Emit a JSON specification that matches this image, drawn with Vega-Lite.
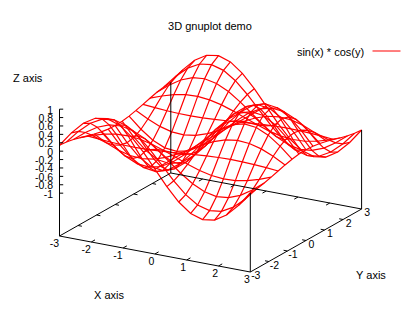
{"$schema":"https://vega.github.io/schema/vega-lite/v6.json","width":420,"height":320,"padding":0,"autosize":{"type":"fit","contains":"padding"},"background":"white","view":{"stroke":null},
"config":{"text":{"font":"Liberation Sans","fontSize":10.5,"color":"#000000"}},
"datasets":{"surface":[
{"x":-3,"y":3,"z":0.14},{"x":-3,"y":2.625,"z":0.123},{"x":-3,"y":2.25,"z":0.089},{"x":-3,"y":1.875,"z":0.042},{"x":-3,"y":1.5,"z":-0.01},{"x":-3,"y":1.125,"z":-0.061},{"x":-3,"y":0.75,"z":-0.103},{"x":-3,"y":0.375,"z":-0.131},{"x":-3,"y":0,"z":-0.141},{"x":-3,"y":-0.375,"z":-0.131},{"x":-3,"y":-0.75,"z":-0.103},{"x":-3,"y":-1.125,"z":-0.061},{"x":-3,"y":-1.5,"z":-0.01},{"x":-3,"y":-1.875,"z":0.042},{"x":-3,"y":-2.25,"z":0.089},{"x":-3,"y":-2.625,"z":0.123},{"x":-3,"y":-3,"z":0.14},
{"x":-2.625,"y":3,"z":0.489},{"x":-2.625,"y":2.625,"z":0.43},{"x":-2.625,"y":2.25,"z":0.31},{"x":-2.625,"y":1.875,"z":0.148},{"x":-2.625,"y":1.5,"z":-0.035},{"x":-2.625,"y":1.125,"z":-0.213},{"x":-2.625,"y":0.75,"z":-0.362},{"x":-2.625,"y":0.375,"z":-0.46},{"x":-2.625,"y":0,"z":-0.494},{"x":-2.625,"y":-0.375,"z":-0.46},{"x":-2.625,"y":-0.75,"z":-0.362},{"x":-2.625,"y":-1.125,"z":-0.213},{"x":-2.625,"y":-1.5,"z":-0.035},{"x":-2.625,"y":-1.875,"z":0.148},{"x":-2.625,"y":-2.25,"z":0.31},{"x":-2.625,"y":-2.625,"z":0.43},{"x":-2.625,"y":-3,"z":0.489},
{"x":-2.25,"y":3,"z":0.77},{"x":-2.25,"y":2.625,"z":0.677},{"x":-2.25,"y":2.25,"z":0.489},{"x":-2.25,"y":1.875,"z":0.233},{"x":-2.25,"y":1.5,"z":-0.055},{"x":-2.25,"y":1.125,"z":-0.335},{"x":-2.25,"y":0.75,"z":-0.569},{"x":-2.25,"y":0.375,"z":-0.724},{"x":-2.25,"y":0,"z":-0.778},{"x":-2.25,"y":-0.375,"z":-0.724},{"x":-2.25,"y":-0.75,"z":-0.569},{"x":-2.25,"y":-1.125,"z":-0.335},{"x":-2.25,"y":-1.5,"z":-0.055},{"x":-2.25,"y":-1.875,"z":0.233},{"x":-2.25,"y":-2.25,"z":0.489},{"x":-2.25,"y":-2.625,"z":0.677},{"x":-2.25,"y":-3,"z":0.77},
{"x":-1.875,"y":3,"z":0.944},{"x":-1.875,"y":2.625,"z":0.83},{"x":-1.875,"y":2.25,"z":0.599},{"x":-1.875,"y":1.875,"z":0.286},{"x":-1.875,"y":1.5,"z":-0.068},{"x":-1.875,"y":1.125,"z":-0.411},{"x":-1.875,"y":0.75,"z":-0.698},{"x":-1.875,"y":0.375,"z":-0.888},{"x":-1.875,"y":0,"z":-0.954},{"x":-1.875,"y":-0.375,"z":-0.888},{"x":-1.875,"y":-0.75,"z":-0.698},{"x":-1.875,"y":-1.125,"z":-0.411},{"x":-1.875,"y":-1.5,"z":-0.068},{"x":-1.875,"y":-1.875,"z":0.286},{"x":-1.875,"y":-2.25,"z":0.599},{"x":-1.875,"y":-2.625,"z":0.83},{"x":-1.875,"y":-3,"z":0.944},
{"x":-1.5,"y":3,"z":0.987},{"x":-1.5,"y":2.625,"z":0.867},{"x":-1.5,"y":2.25,"z":0.626},{"x":-1.5,"y":1.875,"z":0.299},{"x":-1.5,"y":1.5,"z":-0.071},{"x":-1.5,"y":1.125,"z":-0.43},{"x":-1.5,"y":0.75,"z":-0.73},{"x":-1.5,"y":0.375,"z":-0.928},{"x":-1.5,"y":0,"z":-0.997},{"x":-1.5,"y":-0.375,"z":-0.928},{"x":-1.5,"y":-0.75,"z":-0.73},{"x":-1.5,"y":-1.125,"z":-0.43},{"x":-1.5,"y":-1.5,"z":-0.071},{"x":-1.5,"y":-1.875,"z":0.299},{"x":-1.5,"y":-2.25,"z":0.626},{"x":-1.5,"y":-2.625,"z":0.867},{"x":-1.5,"y":-3,"z":0.987},
{"x":-1.125,"y":3,"z":0.893},{"x":-1.125,"y":2.625,"z":0.785},{"x":-1.125,"y":2.25,"z":0.566},{"x":-1.125,"y":1.875,"z":0.271},{"x":-1.125,"y":1.5,"z":-0.064},{"x":-1.125,"y":1.125,"z":-0.389},{"x":-1.125,"y":0.75,"z":-0.66},{"x":-1.125,"y":0.375,"z":-0.84},{"x":-1.125,"y":0,"z":-0.902},{"x":-1.125,"y":-0.375,"z":-0.84},{"x":-1.125,"y":-0.75,"z":-0.66},{"x":-1.125,"y":-1.125,"z":-0.389},{"x":-1.125,"y":-1.5,"z":-0.064},{"x":-1.125,"y":-1.875,"z":0.271},{"x":-1.125,"y":-2.25,"z":0.566},{"x":-1.125,"y":-2.625,"z":0.785},{"x":-1.125,"y":-3,"z":0.893},
{"x":-0.75,"y":3,"z":0.675},{"x":-0.75,"y":2.625,"z":0.593},{"x":-0.75,"y":2.25,"z":0.428},{"x":-0.75,"y":1.875,"z":0.205},{"x":-0.75,"y":1.5,"z":-0.048},{"x":-0.75,"y":1.125,"z":-0.294},{"x":-0.75,"y":0.75,"z":-0.499},{"x":-0.75,"y":0.375,"z":-0.635},{"x":-0.75,"y":0,"z":-0.682},{"x":-0.75,"y":-0.375,"z":-0.635},{"x":-0.75,"y":-0.75,"z":-0.499},{"x":-0.75,"y":-1.125,"z":-0.294},{"x":-0.75,"y":-1.5,"z":-0.048},{"x":-0.75,"y":-1.875,"z":0.205},{"x":-0.75,"y":-2.25,"z":0.428},{"x":-0.75,"y":-2.625,"z":0.593},{"x":-0.75,"y":-3,"z":0.675},
{"x":-0.375,"y":3,"z":0.362},{"x":-0.375,"y":2.625,"z":0.318},{"x":-0.375,"y":2.25,"z":0.23},{"x":-0.375,"y":1.875,"z":0.11},{"x":-0.375,"y":1.5,"z":-0.026},{"x":-0.375,"y":1.125,"z":-0.158},{"x":-0.375,"y":0.75,"z":-0.268},{"x":-0.375,"y":0.375,"z":-0.341},{"x":-0.375,"y":0,"z":-0.366},{"x":-0.375,"y":-0.375,"z":-0.341},{"x":-0.375,"y":-0.75,"z":-0.268},{"x":-0.375,"y":-1.125,"z":-0.158},{"x":-0.375,"y":-1.5,"z":-0.026},{"x":-0.375,"y":-1.875,"z":0.11},{"x":-0.375,"y":-2.25,"z":0.23},{"x":-0.375,"y":-2.625,"z":0.318},{"x":-0.375,"y":-3,"z":0.362},
{"x":0,"y":3,"z":0},{"x":0,"y":2.625,"z":0},{"x":0,"y":2.25,"z":0},{"x":0,"y":1.875,"z":0},{"x":0,"y":1.5,"z":0},{"x":0,"y":1.125,"z":0},{"x":0,"y":0.75,"z":0},{"x":0,"y":0.375,"z":0},{"x":0,"y":0,"z":0},{"x":0,"y":-0.375,"z":0},{"x":0,"y":-0.75,"z":0},{"x":0,"y":-1.125,"z":0},{"x":0,"y":-1.5,"z":0},{"x":0,"y":-1.875,"z":0},{"x":0,"y":-2.25,"z":0},{"x":0,"y":-2.625,"z":0},{"x":0,"y":-3,"z":0},
{"x":0.375,"y":3,"z":-0.362},{"x":0.375,"y":2.625,"z":-0.318},{"x":0.375,"y":2.25,"z":-0.23},{"x":0.375,"y":1.875,"z":-0.11},{"x":0.375,"y":1.5,"z":0.026},{"x":0.375,"y":1.125,"z":0.158},{"x":0.375,"y":0.75,"z":0.268},{"x":0.375,"y":0.375,"z":0.341},{"x":0.375,"y":0,"z":0.366},{"x":0.375,"y":-0.375,"z":0.341},{"x":0.375,"y":-0.75,"z":0.268},{"x":0.375,"y":-1.125,"z":0.158},{"x":0.375,"y":-1.5,"z":0.026},{"x":0.375,"y":-1.875,"z":-0.11},{"x":0.375,"y":-2.25,"z":-0.23},{"x":0.375,"y":-2.625,"z":-0.318},{"x":0.375,"y":-3,"z":-0.362},
{"x":0.75,"y":3,"z":-0.675},{"x":0.75,"y":2.625,"z":-0.593},{"x":0.75,"y":2.25,"z":-0.428},{"x":0.75,"y":1.875,"z":-0.205},{"x":0.75,"y":1.5,"z":0.048},{"x":0.75,"y":1.125,"z":0.294},{"x":0.75,"y":0.75,"z":0.499},{"x":0.75,"y":0.375,"z":0.635},{"x":0.75,"y":0,"z":0.682},{"x":0.75,"y":-0.375,"z":0.635},{"x":0.75,"y":-0.75,"z":0.499},{"x":0.75,"y":-1.125,"z":0.294},{"x":0.75,"y":-1.5,"z":0.048},{"x":0.75,"y":-1.875,"z":-0.205},{"x":0.75,"y":-2.25,"z":-0.428},{"x":0.75,"y":-2.625,"z":-0.593},{"x":0.75,"y":-3,"z":-0.675},
{"x":1.125,"y":3,"z":-0.893},{"x":1.125,"y":2.625,"z":-0.785},{"x":1.125,"y":2.25,"z":-0.566},{"x":1.125,"y":1.875,"z":-0.271},{"x":1.125,"y":1.5,"z":0.064},{"x":1.125,"y":1.125,"z":0.389},{"x":1.125,"y":0.75,"z":0.66},{"x":1.125,"y":0.375,"z":0.84},{"x":1.125,"y":0,"z":0.902},{"x":1.125,"y":-0.375,"z":0.84},{"x":1.125,"y":-0.75,"z":0.66},{"x":1.125,"y":-1.125,"z":0.389},{"x":1.125,"y":-1.5,"z":0.064},{"x":1.125,"y":-1.875,"z":-0.271},{"x":1.125,"y":-2.25,"z":-0.566},{"x":1.125,"y":-2.625,"z":-0.785},{"x":1.125,"y":-3,"z":-0.893},
{"x":1.5,"y":3,"z":-0.987},{"x":1.5,"y":2.625,"z":-0.867},{"x":1.5,"y":2.25,"z":-0.626},{"x":1.5,"y":1.875,"z":-0.299},{"x":1.5,"y":1.5,"z":0.071},{"x":1.5,"y":1.125,"z":0.43},{"x":1.5,"y":0.75,"z":0.73},{"x":1.5,"y":0.375,"z":0.928},{"x":1.5,"y":0,"z":0.997},{"x":1.5,"y":-0.375,"z":0.928},{"x":1.5,"y":-0.75,"z":0.73},{"x":1.5,"y":-1.125,"z":0.43},{"x":1.5,"y":-1.5,"z":0.071},{"x":1.5,"y":-1.875,"z":-0.299},{"x":1.5,"y":-2.25,"z":-0.626},{"x":1.5,"y":-2.625,"z":-0.867},{"x":1.5,"y":-3,"z":-0.987},
{"x":1.875,"y":3,"z":-0.944},{"x":1.875,"y":2.625,"z":-0.83},{"x":1.875,"y":2.25,"z":-0.599},{"x":1.875,"y":1.875,"z":-0.286},{"x":1.875,"y":1.5,"z":0.068},{"x":1.875,"y":1.125,"z":0.411},{"x":1.875,"y":0.75,"z":0.698},{"x":1.875,"y":0.375,"z":0.888},{"x":1.875,"y":0,"z":0.954},{"x":1.875,"y":-0.375,"z":0.888},{"x":1.875,"y":-0.75,"z":0.698},{"x":1.875,"y":-1.125,"z":0.411},{"x":1.875,"y":-1.5,"z":0.068},{"x":1.875,"y":-1.875,"z":-0.286},{"x":1.875,"y":-2.25,"z":-0.599},{"x":1.875,"y":-2.625,"z":-0.83},{"x":1.875,"y":-3,"z":-0.944},
{"x":2.25,"y":3,"z":-0.77},{"x":2.25,"y":2.625,"z":-0.677},{"x":2.25,"y":2.25,"z":-0.489},{"x":2.25,"y":1.875,"z":-0.233},{"x":2.25,"y":1.5,"z":0.055},{"x":2.25,"y":1.125,"z":0.335},{"x":2.25,"y":0.75,"z":0.569},{"x":2.25,"y":0.375,"z":0.724},{"x":2.25,"y":0,"z":0.778},{"x":2.25,"y":-0.375,"z":0.724},{"x":2.25,"y":-0.75,"z":0.569},{"x":2.25,"y":-1.125,"z":0.335},{"x":2.25,"y":-1.5,"z":0.055},{"x":2.25,"y":-1.875,"z":-0.233},{"x":2.25,"y":-2.25,"z":-0.489},{"x":2.25,"y":-2.625,"z":-0.677},{"x":2.25,"y":-3,"z":-0.77},
{"x":2.625,"y":3,"z":-0.489},{"x":2.625,"y":2.625,"z":-0.43},{"x":2.625,"y":2.25,"z":-0.31},{"x":2.625,"y":1.875,"z":-0.148},{"x":2.625,"y":1.5,"z":0.035},{"x":2.625,"y":1.125,"z":0.213},{"x":2.625,"y":0.75,"z":0.362},{"x":2.625,"y":0.375,"z":0.46},{"x":2.625,"y":0,"z":0.494},{"x":2.625,"y":-0.375,"z":0.46},{"x":2.625,"y":-0.75,"z":0.362},{"x":2.625,"y":-1.125,"z":0.213},{"x":2.625,"y":-1.5,"z":0.035},{"x":2.625,"y":-1.875,"z":-0.148},{"x":2.625,"y":-2.25,"z":-0.31},{"x":2.625,"y":-2.625,"z":-0.43},{"x":2.625,"y":-3,"z":-0.489},
{"x":3,"y":3,"z":-0.14},{"x":3,"y":2.625,"z":-0.123},{"x":3,"y":2.25,"z":-0.089},{"x":3,"y":1.875,"z":-0.042},{"x":3,"y":1.5,"z":0.01},{"x":3,"y":1.125,"z":0.061},{"x":3,"y":0.75,"z":0.103},{"x":3,"y":0.375,"z":0.131},{"x":3,"y":0,"z":0.141},{"x":3,"y":-0.375,"z":0.131},{"x":3,"y":-0.75,"z":0.103},{"x":3,"y":-1.125,"z":0.061},{"x":3,"y":-1.5,"z":0.01},{"x":3,"y":-1.875,"z":-0.042},{"x":3,"y":-2.25,"z":-0.089},{"x":3,"y":-2.625,"z":-0.123},{"x":3,"y":-3,"z":-0.14}
],
"frame":[
{"part":"frame","x":-3,"y":-3,"z":-2.02,"xe":3,"ye":-3,"ze":-2.02},{"part":"frame","x":3,"y":-3,"z":-2.02,"xe":3,"ye":3,"ze":-2.02},{"part":"frame","x":3,"y":3,"z":-2.02,"xe":-3,"ye":3,"ze":-2.02},{"part":"frame","x":-3,"y":3,"z":-2.02,"xe":-3,"ye":-3,"ze":-2.02},
{"part":"frame","x":-3,"y":-3,"z":-2.02,"xe":-3,"ye":-3,"ze":1},{"part":"frame","x":-3,"y":3,"z":-2.02,"xe":-3,"ye":3,"ze":0.14},{"part":"frame","x":3,"y":-3,"z":-2.02,"xe":3,"ye":-3,"ze":-0.14},{"part":"frame","x":3,"y":3,"z":-2.02,"xe":3,"ye":3,"ze":-0.14},
{"part":"frame","x":-3,"y":-3,"z":1,"xe":-2.9125,"ye":-2.95,"ze":1},{"part":"frame","x":-3,"y":-3,"z":0.8,"xe":-2.9125,"ye":-2.95,"ze":0.8},{"part":"frame","x":-3,"y":-3,"z":0.6,"xe":-2.9125,"ye":-2.95,"ze":0.6},{"part":"frame","x":-3,"y":-3,"z":0.4,"xe":-2.9125,"ye":-2.95,"ze":0.4},{"part":"frame","x":-3,"y":-3,"z":0.2,"xe":-2.9125,"ye":-2.95,"ze":0.2},{"part":"frame","x":-3,"y":-3,"z":0,"xe":-2.9125,"ye":-2.95,"ze":0},{"part":"frame","x":-3,"y":-3,"z":-0.2,"xe":-2.9125,"ye":-2.95,"ze":-0.2},{"part":"frame","x":-3,"y":-3,"z":-0.4,"xe":-2.9125,"ye":-2.95,"ze":-0.4},{"part":"frame","x":-3,"y":-3,"z":-0.6,"xe":-2.9125,"ye":-2.95,"ze":-0.6},{"part":"frame","x":-3,"y":-3,"z":-0.8,"xe":-2.9125,"ye":-2.95,"ze":-0.8},{"part":"frame","x":-3,"y":-3,"z":-1,"xe":-2.9125,"ye":-2.95,"ze":-1},
{"part":"frame","x":-2,"y":-3,"z":-2.02,"xe":-2,"ye":-2.8,"ze":-2.02},{"part":"frame","x":-1,"y":-3,"z":-2.02,"xe":-1,"ye":-2.8,"ze":-2.02},{"part":"frame","x":0,"y":-3,"z":-2.02,"xe":0,"ye":-2.8,"ze":-2.02},{"part":"frame","x":1,"y":-3,"z":-2.02,"xe":1,"ye":-2.8,"ze":-2.02},{"part":"frame","x":2,"y":-3,"z":-2.02,"xe":2,"ye":-2.8,"ze":-2.02},
{"part":"frame","x":-2,"y":3,"z":-2.02,"xe":-2,"ye":2.8,"ze":-2.02},{"part":"frame","x":-1,"y":3,"z":-2.02,"xe":-1,"ye":2.8,"ze":-2.02},{"part":"frame","x":0,"y":3,"z":-2.02,"xe":0,"ye":2.8,"ze":-2.02},{"part":"frame","x":1,"y":3,"z":-2.02,"xe":1,"ye":2.8,"ze":-2.02},{"part":"frame","x":2,"y":3,"z":-2.02,"xe":2,"ye":2.8,"ze":-2.02},
{"part":"frame","x":3,"y":-2,"z":-2.02,"xe":2.88,"ye":-2,"ze":-2.02},{"part":"frame","x":3,"y":-1,"z":-2.02,"xe":2.88,"ye":-1,"ze":-2.02},{"part":"frame","x":3,"y":0,"z":-2.02,"xe":2.88,"ye":0,"ze":-2.02},{"part":"frame","x":3,"y":1,"z":-2.02,"xe":2.88,"ye":1,"ze":-2.02},{"part":"frame","x":3,"y":2,"z":-2.02,"xe":2.88,"ye":2,"ze":-2.02},
{"part":"frame","x":-3,"y":-2,"z":-2.02,"xe":-2.88,"ye":-2,"ze":-2.02},{"part":"frame","x":-3,"y":-1,"z":-2.02,"xe":-2.88,"ye":-1,"ze":-2.02},{"part":"frame","x":-3,"y":0,"z":-2.02,"xe":-2.88,"ye":0,"ze":-2.02},{"part":"frame","x":-3,"y":1,"z":-2.02,"xe":-2.88,"ye":1,"ze":-2.02},{"part":"frame","x":-3,"y":2,"z":-2.02,"xe":-2.88,"ye":2,"ze":-2.02},
{"part":"series","x":6.843,"y":-3,"z":3.791,"xe":7.723,"ye":-3,"ze":3.916}
],
"labels":[
{"kind":"z","label":"1","x":-3,"y":-3,"z":1},{"kind":"z","label":"0.8","x":-3,"y":-3,"z":0.8},{"kind":"z","label":"0.6","x":-3,"y":-3,"z":0.6},{"kind":"z","label":"0.4","x":-3,"y":-3,"z":0.4},{"kind":"z","label":"0.2","x":-3,"y":-3,"z":0.2},{"kind":"z","label":"0","x":-3,"y":-3,"z":0},{"kind":"z","label":"-0.2","x":-3,"y":-3,"z":-0.2},{"kind":"z","label":"-0.4","x":-3,"y":-3,"z":-0.4},{"kind":"z","label":"-0.6","x":-3,"y":-3,"z":-0.6},{"kind":"z","label":"-0.8","x":-3,"y":-3,"z":-0.8},{"kind":"z","label":"-1","x":-3,"y":-3,"z":-1},
{"kind":"x","label":"-3","x":-3,"y":-3,"z":-2.02},{"kind":"x","label":"-2","x":-2,"y":-3,"z":-2.02},{"kind":"x","label":"-1","x":-1,"y":-3,"z":-2.02},{"kind":"x","label":"0","x":0,"y":-3,"z":-2.02},{"kind":"x","label":"1","x":1,"y":-3,"z":-2.02},{"kind":"x","label":"2","x":2,"y":-3,"z":-2.02},{"kind":"x","label":"3","x":3,"y":-3,"z":-2.02},
{"kind":"y","label":"-3","x":3,"y":-3,"z":-2.02},{"kind":"y","label":"-2","x":3,"y":-2,"z":-2.02},{"kind":"y","label":"-1","x":3,"y":-1,"z":-2.02},{"kind":"y","label":"0","x":3,"y":0,"z":-2.02},{"kind":"y","label":"1","x":3,"y":1,"z":-2.02},{"kind":"y","label":"2","x":3,"y":2,"z":-2.02},{"kind":"y","label":"3","x":3,"y":3,"z":-2.02},
{"kind":"t","label":"3D gnuplot demo","x":1.733,"y":-3,"z":3.63},{"kind":"t","label":"sin(x) * cos(y)","x":5.522,"y":-3,"z":3.558},{"kind":"t","label":"X axis","x":0.668,"y":-6.618,"z":-2.02},{"kind":"t","label":"Y axis","x":6.013,"y":-1.659,"z":-2.02},{"kind":"t","label":"Z axis","x":-4,"y":-3,"z":1.575}
]},
"layer":[
{"data":{"name":"surface"},
"transform":[
{"calculate":"59.5+(datum.x+3)*31.8+(datum.y+3)*18.55","as":"u"},
{"calculate":"236+(datum.x+3)*6-(datum.y+3)*10.5-(datum.z+2.02)*42","as":"v"}],
"mark":{"type":"line","stroke":"#ff0000","strokeWidth":1.2,"clip":false},
"encoding":{"x":{"field":"u","type":"quantitative","axis":null,"scale":{"domain":[0,420],"nice":false,"zero":false}},"y":{"field":"v","type":"quantitative","axis":null,"scale":{"domain":[0,320],"reverse":true,"nice":false,"zero":false}},"detail":{"field":"x","type":"nominal"},"order":{"field":"y","type":"quantitative"}}},
{"data":{"name":"surface"},
"transform":[
{"calculate":"59.5+(datum.x+3)*31.8+(datum.y+3)*18.55","as":"u"},
{"calculate":"236+(datum.x+3)*6-(datum.y+3)*10.5-(datum.z+2.02)*42","as":"v"}],
"mark":{"type":"line","stroke":"#ff0000","strokeWidth":1.2,"clip":false},
"encoding":{"x":{"field":"u","type":"quantitative"},"y":{"field":"v","type":"quantitative"},"detail":{"field":"y","type":"nominal"},"order":{"field":"x","type":"quantitative"}}},
{"data":{"name":"frame"},
"transform":[
{"calculate":"59.5+(datum.x+3)*31.8+(datum.y+3)*18.55","as":"u"},
{"calculate":"236+(datum.x+3)*6-(datum.y+3)*10.5-(datum.z+2.02)*42","as":"v"},
{"calculate":"59.5+(datum.xe+3)*31.8+(datum.ye+3)*18.55","as":"ue"},
{"calculate":"236+(datum.xe+3)*6-(datum.ye+3)*10.5-(datum.ze+2.02)*42","as":"ve"}],
"mark":{"type":"rule","strokeWidth":1},
"encoding":{"x":{"field":"u","type":"quantitative"},"y":{"field":"v","type":"quantitative"},"x2":{"field":"ue"},"y2":{"field":"ve"},"color":{"field":"part","type":"nominal","legend":null,"scale":{"domain":["frame","series"],"range":["#000000","#ff0000"]}}}},
{"data":{"name":"labels"},
"transform":[{"filter":"datum.kind=='z'"},
{"calculate":"59.5+(datum.x+3)*31.8+(datum.y+3)*18.55","as":"u"},
{"calculate":"236+(datum.x+3)*6-(datum.y+3)*10.5-(datum.z+2.02)*42","as":"v"}],
"mark":{"type":"text","align":"right","baseline":"middle","dx":-6.5,"dy":1.5},
"encoding":{"x":{"field":"u","type":"quantitative"},"y":{"field":"v","type":"quantitative"},"text":{"field":"label"}}},
{"data":{"name":"labels"},
"transform":[{"filter":"datum.kind=='x'"},
{"calculate":"59.5+(datum.x+3)*31.8+(datum.y+3)*18.55","as":"u"},
{"calculate":"236+(datum.x+3)*6-(datum.y+3)*10.5-(datum.z+2.02)*42","as":"v"}],
"mark":{"type":"text","align":"right","baseline":"middle","dx":-0.5,"dy":7.5},
"encoding":{"x":{"field":"u","type":"quantitative"},"y":{"field":"v","type":"quantitative"},"text":{"field":"label"}}},
{"data":{"name":"labels"},
"transform":[{"filter":"datum.kind=='y'"},
{"calculate":"59.5+(datum.x+3)*31.8+(datum.y+3)*18.55","as":"u"},
{"calculate":"236+(datum.x+3)*6-(datum.y+3)*10.5-(datum.z+2.02)*42","as":"v"}],
"mark":{"type":"text","align":"center","baseline":"middle","dx":5.5,"dy":4},
"encoding":{"x":{"field":"u","type":"quantitative"},"y":{"field":"v","type":"quantitative"},"text":{"field":"label"}}},
{"data":{"name":"labels"},
"transform":[{"filter":"datum.kind=='t'"},
{"calculate":"59.5+(datum.x+3)*31.8+(datum.y+3)*18.55","as":"u"},
{"calculate":"236+(datum.x+3)*6-(datum.y+3)*10.5-(datum.z+2.02)*42","as":"v"}],
"mark":{"type":"text","align":"center","baseline":"middle","fontSize":11},
"encoding":{"x":{"field":"u","type":"quantitative"},"y":{"field":"v","type":"quantitative"},"text":{"field":"label"}}}
]}
